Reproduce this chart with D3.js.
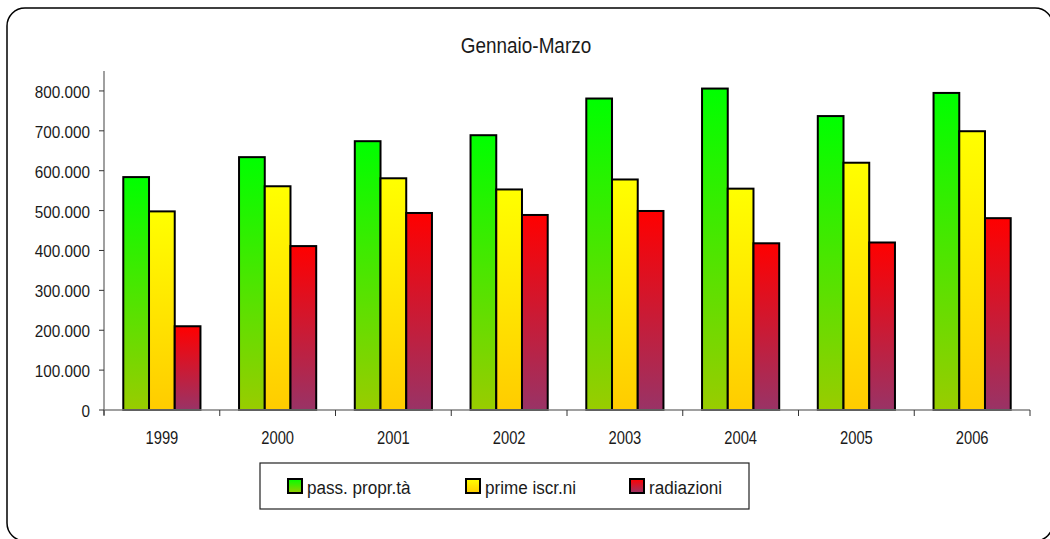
<!DOCTYPE html>
<html>
<head>
<meta charset="utf-8">
<script src="https://cdn.jsdelivr.net/npm/d3@7"></script>
<style>
  body { margin: 0; background: #fff; }
  svg text { font-family: "Liberation Sans", Arial, sans-serif; fill: #1a1a1a; }
</style>
</head>
<body>
<div class="chart"></div>
<script>
// data
const years = ['1999', '2000', '2001', '2002', '2003', '2004', '2005', '2006'];
const passPropr = [584000, 634000, 674000, 689000, 781000, 806000, 737000, 795000];
const primeIscr = [498000, 561000, 581000, 553000, 578000, 555000, 620000, 699000];
const radiazioni = [210000, 411000, 494000, 489000, 499000, 418000, 420000, 481000];
const seriesNames = ['pass. propr.tà', 'prime iscr.ni', 'radiazioni'];
const yTicks = [0, 100000, 200000, 300000, 400000, 500000, 600000, 700000, 800000];

const width = 1050;
const height = 539;

const series = [
  {key: 'green', name: seriesNames[0], values: passPropr, c1: '#00ff00', c2: '#99cc00'},
  {key: 'yellow', name: seriesNames[1], values: primeIscr, c1: '#ffff00', c2: '#ffcc00'},
  {key: 'red', name: seriesNames[2], values: radiazioni, c1: '#ff0000', c2: '#993366'},
];

const it = d3.formatLocale({decimal: ',', thousands: '.', grouping: [3], currency: ['€', '']});
const fmt = it.format(',d');

const svg = d3.select('.chart')
  .append('svg')
  .attr('width', width)
  .attr('height', height);

// gradients, one per series, stretched over each bar
const defs = svg.append('defs');
series.forEach(s => {
  const g = defs.append('linearGradient')
    .attr('id', 'grad-' + s.key)
    .attr('x1', 0).attr('y1', 0).attr('x2', 0).attr('y2', 1);
  g.append('stop').attr('offset', '0%').attr('stop-color', s.c1);
  g.append('stop').attr('offset', '100%').attr('stop-color', s.c2);
});

// outer frame
svg.append('rect')
  .attr('x', 7).attr('y', 8)
  .attr('width', 1046).attr('height', 533)
  .attr('rx', 18)
  .attr('fill', '#fff')
  .attr('stroke', '#000')
  .attr('stroke-width', 1.5);

// helper: text squeezed horizontally like the original
function label(x, y, txt, size, sx, anchor) {
  return svg.append('text')
    .attr('transform', `translate(${x},${y}) scale(${sx},1)`)
    .attr('text-anchor', anchor)
    .attr('font-size', size)
    .text(txt);
}

label(526, 53, 'Gennaio-Marzo', 22, 0.86, 'middle');

const plotLeft = 104, plotRight = 1030, plotBottom = 410, plotTop = 71;

const x = d3.scaleBand()
  .domain(years)
  .range([plotLeft, plotRight])
  .paddingInner(1 / 3)
  .paddingOuter(1 / 6);

const xInner = d3.scaleBand()
  .domain(series.map(s => s.key))
  .range([0, x.bandwidth()]);

const y = d3.scaleLinear()
  .domain([0, 850000])
  .range([plotBottom, plotTop]);

// bars
series.forEach(s => {
  svg.append('g')
    .selectAll('rect')
    .data(s.values)
    .enter()
    .append('rect')
    .attr('x', (d, i) => x(years[i]) + xInner(s.key))
    .attr('y', d => y(d))
    .attr('width', xInner.bandwidth())
    .attr('height', d => y(0) - y(d))
    .attr('fill', `url(#grad-${s.key})`)
    .attr('stroke', '#000')
    .attr('stroke-width', 2);
});

// y axis
svg.append('line')
  .attr('x1', plotLeft).attr('x2', plotLeft)
  .attr('y1', plotTop).attr('y2', plotBottom + 5)
  .attr('stroke', '#808080').attr('stroke-width', 1.5);

yTicks.forEach(t => {
  svg.append('line')
    .attr('x1', plotLeft - 5).attr('x2', plotLeft)
    .attr('y1', y(t)).attr('y2', y(t))
    .attr('stroke', '#333').attr('stroke-width', 1);
  label(90, y(t) + 7, fmt(t), 17, 0.9, 'end');
});

// x axis
svg.append('line')
  .attr('x1', plotLeft).attr('x2', plotRight)
  .attr('y1', plotBottom).attr('y2', plotBottom)
  .attr('stroke', '#808080').attr('stroke-width', 1.5);

const step = x.step();
d3.range(years.length + 1).forEach(i => {
  const tx = plotLeft + i * step;
  svg.append('line')
    .attr('x1', tx).attr('x2', tx)
    .attr('y1', plotBottom).attr('y2', plotBottom + 6)
    .attr('stroke', '#333').attr('stroke-width', 1);
});

years.forEach(yr => {
  label(x(yr) + x.bandwidth() / 2, 443.5, yr, 18, 0.82, 'middle');
});

// legend
svg.append('rect')
  .attr('x', 260).attr('y', 463)
  .attr('width', 489).attr('height', 46)
  .attr('fill', '#fff')
  .attr('stroke', '#222')
  .attr('stroke-width', 1.2);

const legendX = [288, 466, 630];
series.forEach((s, i) => {
  svg.append('rect')
    .attr('x', legendX[i]).attr('y', 479)
    .attr('width', 14).attr('height', 14)
    .attr('fill', `url(#grad-${s.key})`)
    .attr('stroke', '#000')
    .attr('stroke-width', 2);
  label(legendX[i] + 19, 494, s.name, 19, 0.9, 'start');
});
</script>
</body>
</html>
